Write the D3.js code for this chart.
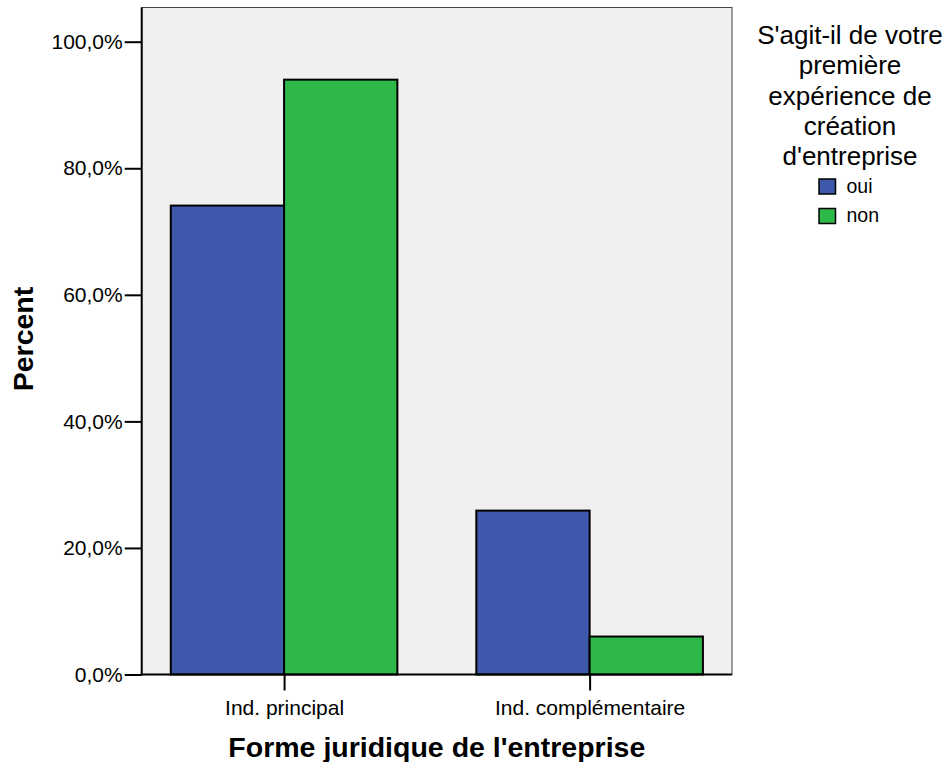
<!DOCTYPE html>
<html><head><meta charset="utf-8">
<script src="https://cdn.jsdelivr.net/npm/d3@7/dist/d3.min.js"></script>
<style>body{margin:0;background:#fff}svg{display:block}text{font-family:"Liberation Sans",Arial,sans-serif}</style>
</head><body>
<script>
const categories = ["Ind. principal", "Ind. complémentaire"];
const series = ["oui", "non"];
const ouiValues = [74.1, 25.9];
const nonValues = [94.0, 6.0];
const yTicks = [0, 20, 40, 60, 80, 100];
const legendTitle = ["S'agit-il de votre", "première", "expérience de", "création", "d'entreprise"];
const colors = ["#3e58ab", "#2fb84a"];

const W = 947, H = 762;
const L = 141.7, R = 732, T = 7.5, B = 674.5;
const svg = d3.select("body").append("svg").attr("width", W).attr("height", H);

const pxPerUnit = (B - 41.7) / 100;
const y = d3.scaleLinear().domain([0, (B - T) / pxPerUnit]).range([B, T]);
const x0 = d3.scalePoint().domain(categories).range([L, R]).padding(0.466);
const halfW = 113.3;
const x1 = d3.scaleBand().domain(series).range([-halfW, halfW]);

svg.append("rect").attr("x", L).attr("y", T).attr("width", R - L).attr("height", B - T)
  .attr("fill", "#f0f0f0").attr("stroke", "#444").attr("stroke-width", 1);

const data = categories.map((c, i) => ({ c, vals: [ouiValues[i], nonValues[i]] }));
const g = svg.append("g");
data.forEach(d => {
  series.forEach((s, j) => {
    g.append("rect")
      .attr("x", x0(d.c) + x1(s))
      .attr("y", y(d.vals[j]))
      .attr("width", x1.bandwidth())
      .attr("height", y(0) - y(d.vals[j]))
      .attr("fill", colors[j]).attr("stroke", "#000").attr("stroke-width", 2);
  });
});

// Y axis
const yAxis = d3.axisLeft(y).tickValues(yTicks).tickSize(17).tickPadding(2)
  .tickFormat(d => d3.format(".1f")(d).replace(".", ",") + "%");
const ya = svg.append("g").attr("transform", `translate(${L},0)`).call(yAxis);
ya.select(".domain").remove();
ya.selectAll(".tick line").attr("stroke", "#000").attr("stroke-width", 2);
ya.selectAll(".tick text").attr("font-size", 21).attr("fill", "#000").attr("font-family", "Liberation Sans, Arial, sans-serif");
svg.append("line").attr("x1", L).attr("x2", L).attr("y1", T).attr("y2", B + 1).attr("stroke", "#000").attr("stroke-width", 2);

// X axis
const xAxis = d3.axisBottom(x0).tickSize(16).tickPadding(10);
const xa = svg.append("g").attr("transform", `translate(0,${B})`).call(xAxis);
xa.select(".domain").remove();
xa.selectAll(".tick line").attr("stroke", "#000").attr("stroke-width", 2);
xa.selectAll(".tick text").attr("font-size", 21).attr("fill", "#000").attr("font-family", "Liberation Sans, Arial, sans-serif");
svg.append("line").attr("x1", L - 1).attr("x2", R).attr("y1", B).attr("y2", B).attr("stroke", "#000").attr("stroke-width", 2);

// Titles
svg.append("text").attr("x", (L + R) / 2).attr("y", 757).attr("text-anchor", "middle")
  .attr("font-size", 28.5).attr("font-weight", "bold").text("Forme juridique de l'entreprise");
svg.append("text").attr("transform", `translate(33,339) rotate(-90)`).attr("text-anchor", "middle")
  .attr("font-size", 28.5).attr("font-weight", "bold").text("Percent");

// Legend
const lg = svg.append("g");
legendTitle.forEach((t, i) => {
  lg.append("text").attr("x", 850).attr("y", 44 + i * 30.3).attr("text-anchor", "middle")
    .attr("font-size", 26).text(t);
});
series.forEach((s, i) => {
  const yy = 179 + i * 29.5;
  lg.append("rect").attr("x", 819).attr("y", yy).attr("width", 16.5).attr("height", 15)
    .attr("fill", colors[i]).attr("stroke", "#000").attr("stroke-width", 1.5);
  lg.append("text").attr("x", 846.5).attr("y", yy + 13.5).attr("font-size", 19.5).text(s);
});
</script>
</body></html>
